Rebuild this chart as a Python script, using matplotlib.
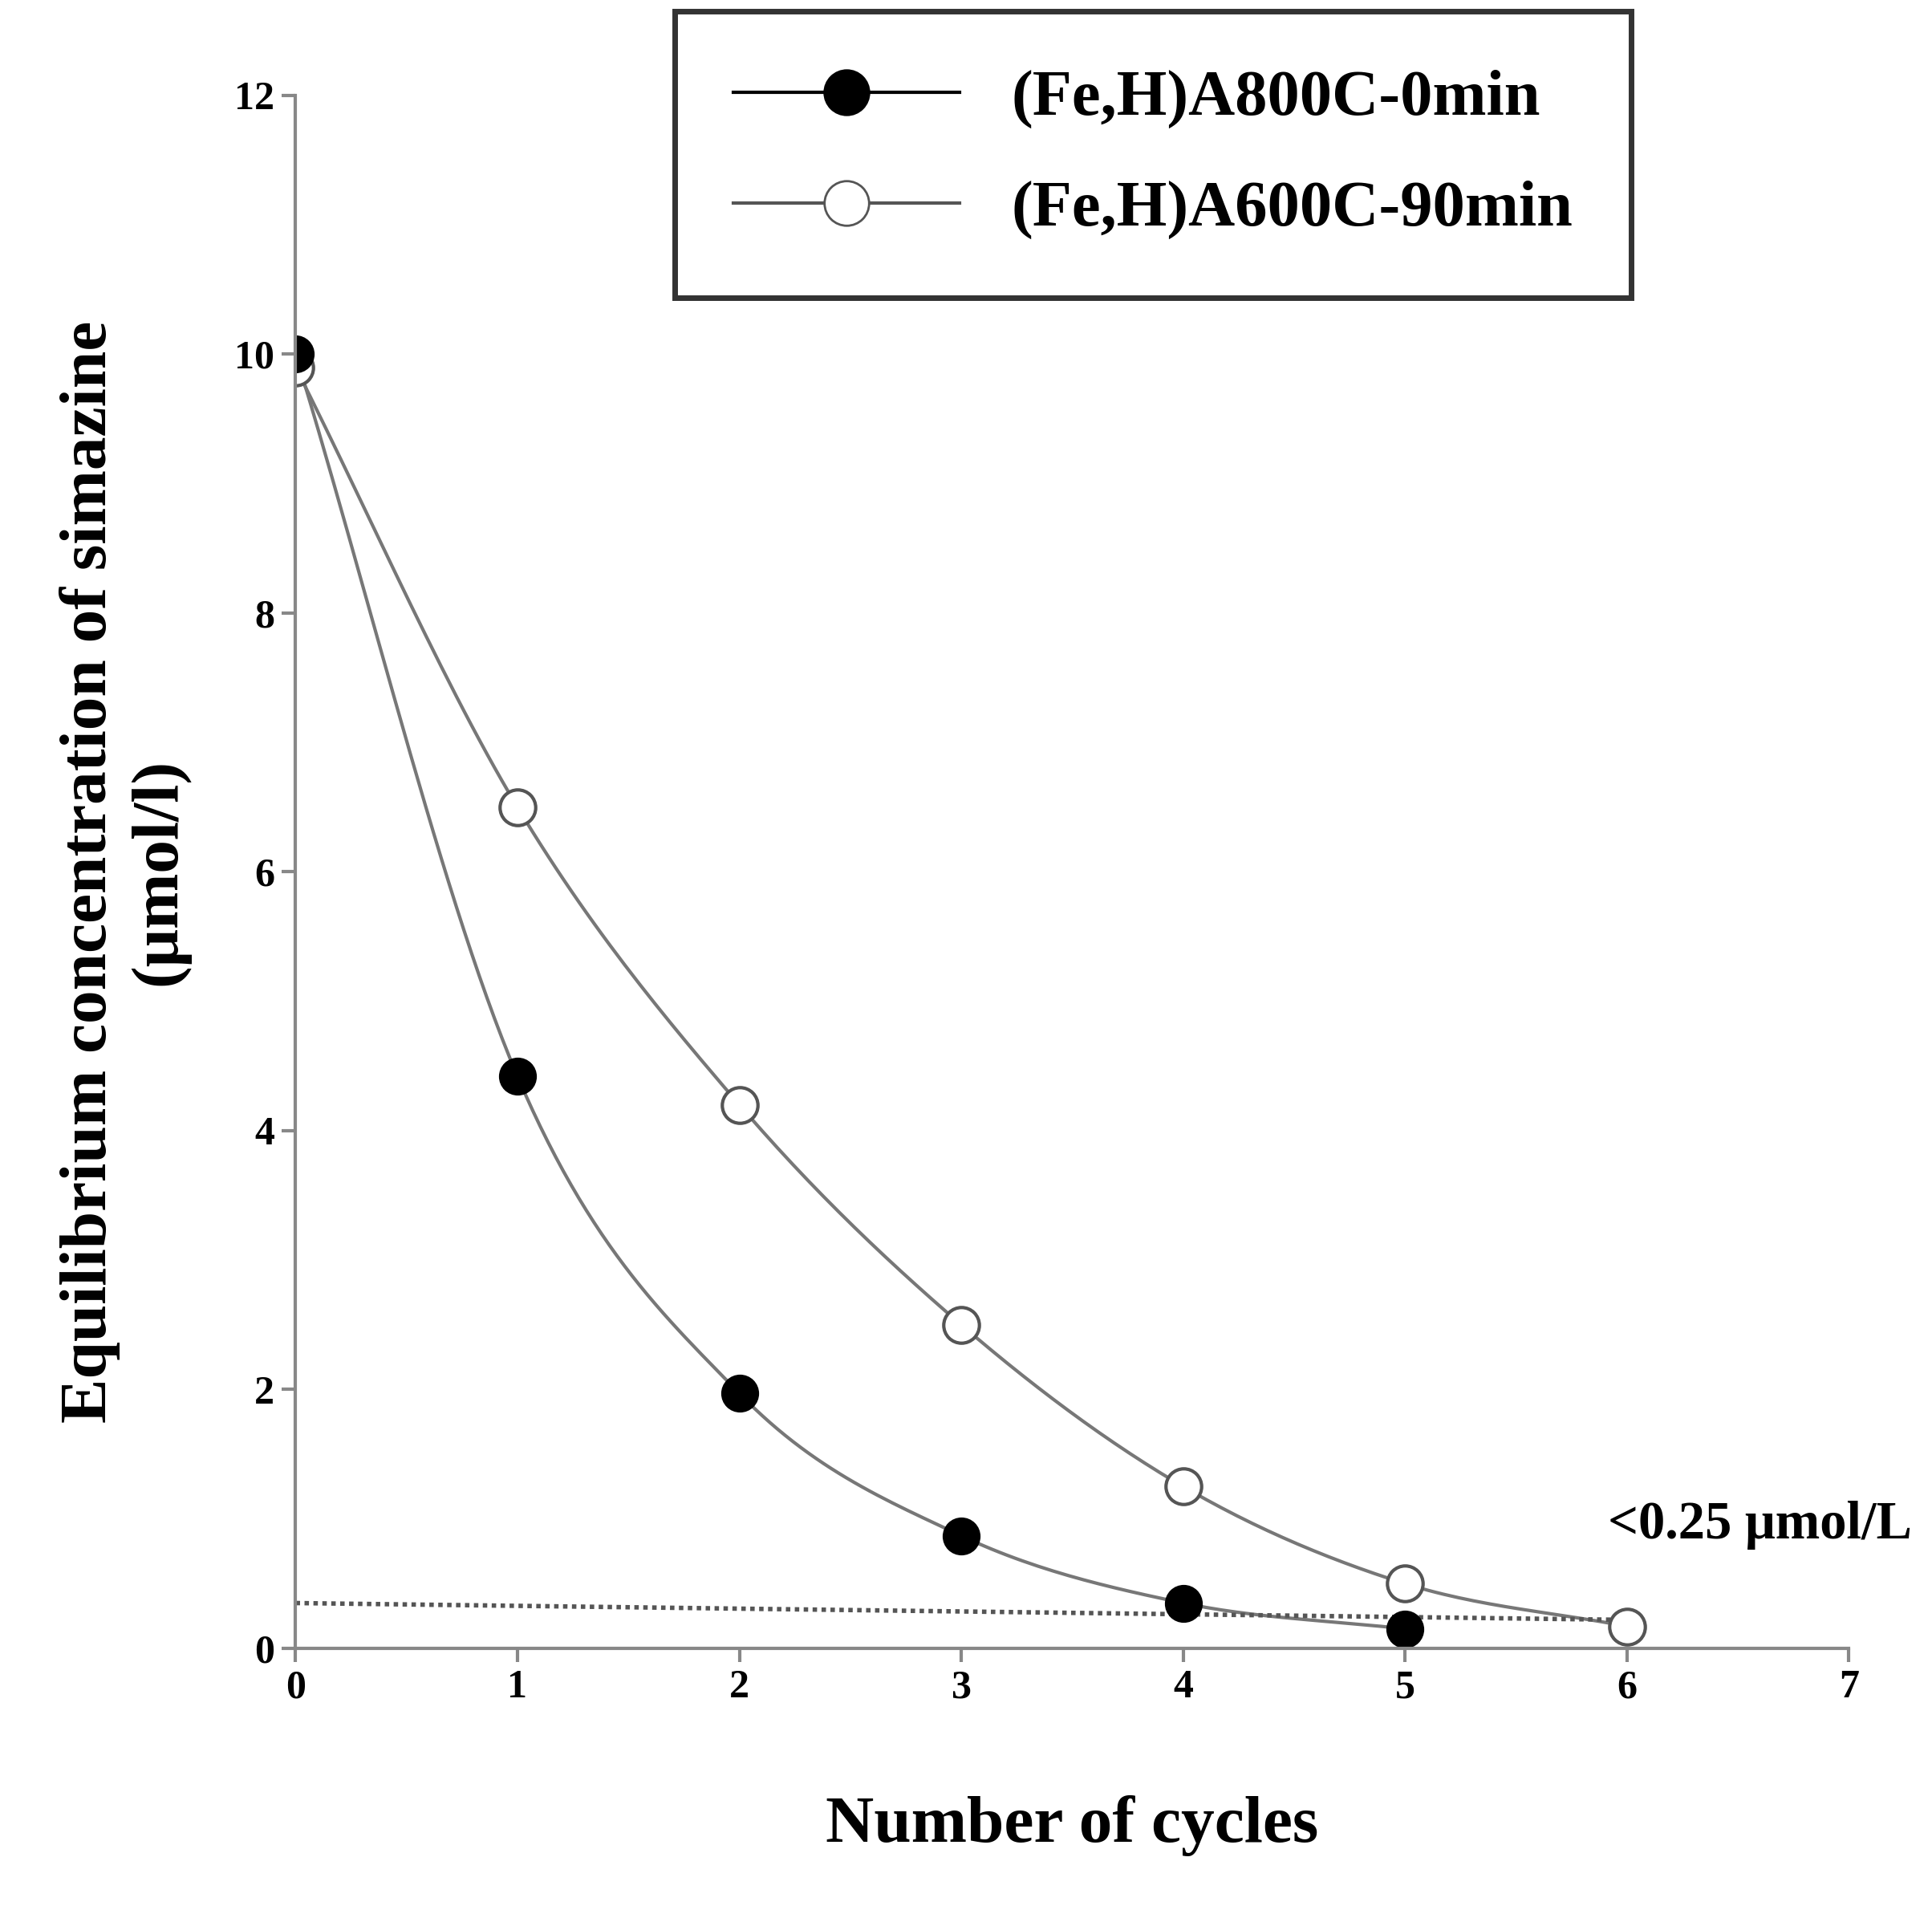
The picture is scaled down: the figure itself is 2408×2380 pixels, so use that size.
import numpy as np
import matplotlib
matplotlib.use("Agg")
import matplotlib.pyplot as plt

cycles_a = [0, 1, 2, 3, 4, 5]
conc_a = [10.0, 4.42, 1.97, 0.87, 0.35, 0.15]
cycles_b = [0, 1, 2, 3, 4, 5, 6]
conc_b = [9.9, 6.5, 4.2, 2.5, 1.25, 0.5, 0.17]
label_a = "(Fe,H)A800C-0min"
label_b = "(Fe,H)A600C-90min"
xticks = [0, 1, 2, 3, 4, 5, 6, 7]
yticks = [0, 2, 4, 6, 8, 10, 12]
yticklabels = ["0", "2", "4", "6", "8", "10", "12"]

def smooth(x, y, n=30):
    x = np.asarray(x, float); y = np.asarray(y, float)
    xs, ys = [], []
    P = np.concatenate([[2*y[0]-y[1]], y, [2*y[-1]-y[-2]]])
    for i in range(len(x)-1):
        t = np.linspace(0, 1, n)
        p0, p1, p2, p3 = P[i], P[i+1], P[i+2], P[i+3]
        yy = 0.5*((2*p1) + (-p0+p2)*t + (2*p0-5*p1+4*p2-p3)*t**2 + (-p0+3*p1-3*p2+p3)*t**3)
        xs.append(x[i] + (x[i+1]-x[i])*t); ys.append(yy)
    return np.concatenate(xs), np.concatenate(ys)

plt.rcParams['font.family'] = ['Liberation Serif', 'DejaVu Serif']
plt.rcParams['font.weight'] = 'bold'
fig = plt.figure(figsize=(12.04, 11.9), dpi=200)
ax = fig.add_axes([0.153, 0.137, 0.804, 0.813])

lc = '#777777'
xa, ya = smooth(cycles_a, conc_a)
xb, yb = smooth(cycles_b, conc_b)
ax.plot(xa, ya, color=lc, lw=1.5)
ax.plot(xb, yb, color=lc, lw=1.5)
ax.plot([0, 6], [0.35, 0.22], color='#555555', lw=2, ls=(0, (1, 1)))
ax.plot(cycles_b, conc_b, 'o', mfc='white', mec='#555555', ms=16, mew=1.5)
ax.plot(cycles_a, conc_a, 'o', color='black', ms=16)

ax.set_xlim(0, 7); ax.set_ylim(0, 12)
ax.set_xticks(xticks); ax.set_yticks(yticks)
ax.set_yticklabels(yticklabels)
for s in ['top', 'right']:
    ax.spines[s].set_visible(False)
for s in ['left', 'bottom']:
    ax.spines[s].set_color('#888888'); ax.spines[s].set_linewidth(1.5)
ax.tick_params(colors='#888888', labelcolor='black', labelsize=18, width=1.5, length=6)
ax.set_xlabel("Number of cycles", fontsize=30, fontweight='bold', labelpad=40)
ax.set_ylabel("Equilibrium concentration of simazine\n(μmol/l)", fontsize=30, fontweight='bold', labelpad=20)
ax.text(6.6, 0.85, "<0.25 μmol/L", fontsize=24, fontweight='bold', ha='center')

from matplotlib.lines import Line2D
h = [Line2D([], [], color='black', marker='o', ms=20, lw=1.5),
     Line2D([], [], color='#555555', marker='o', mfc='white', ms=20, lw=1.5)]
leg = ax.legend(h, [label_a, label_b], loc='upper center', bbox_to_anchor=(0.552, 1.075),
                fontsize=29, frameon=True, fancybox=False, edgecolor='black',
                handlelength=3.5, borderpad=0.9, labelspacing=0.8)
leg.get_frame().set_linewidth(2.5)
fig.savefig("out.png", dpi=200)
